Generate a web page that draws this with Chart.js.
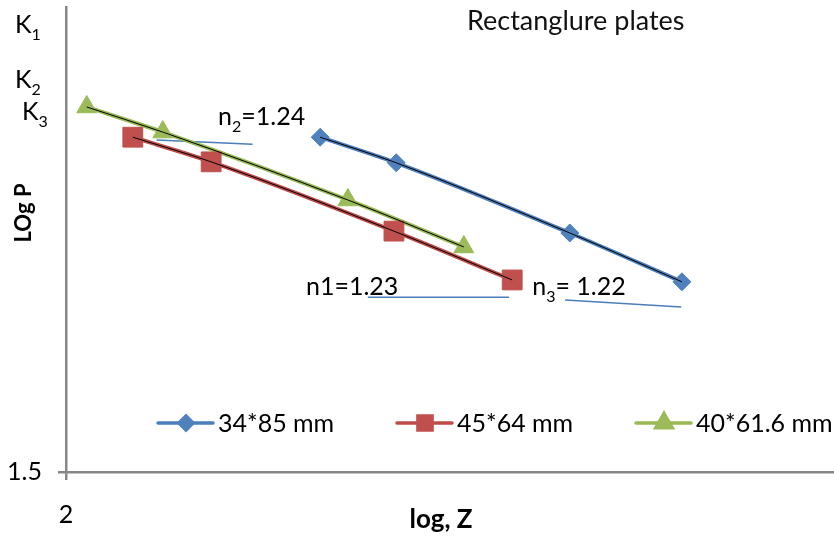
<!DOCTYPE html>
<html>
<head>
<meta charset="utf-8">
<script src="https://cdn.jsdelivr.net/npm/chart.js@4/dist/chart.umd.min.js"></script>
<style>
  html, body { margin: 0; padding: 0; background: #fff; }
  #wrap { width: 834px; height: 541px; position: relative; }
</style>
</head>
<body>
<div id="wrap"><canvas id="chart"></canvas></div>
<script>
// log Z / log P values
const blueX = [2.331, 2.430, 2.656, 2.802];
const blueY = [2.220, 2.165, 2.014, 1.909];
const redX = [2.087, 2.189, 2.427, 2.581];
const redY = [2.220, 2.167, 2.018, 1.913];
const greenX = [2.027, 2.126, 2.367, 2.518];
const greenY = [2.285, 2.231, 2.085, 1.984];

const seriesNames = ["34*85 mm", "45*64 mm", "40*61.6 mm"];

// slope guide lines, two end points each (n2, n1, n3)
const guideX = [[2.118, 2.243], [2.393, 2.577], [2.650, 2.801]];
const guideY = [[2.214, 2.205], [1.876, 1.876], [1.870, 1.855]];

// slope labels: [main, subscript, rest], anchored at (x, y)
const slopeText = [["n", "2", "=1.24"], ["n1=1.23", "", ""], ["n", "3", "= 1.22"]];
const slopeX = [2.198, 2.3125, 2.607];
const slopeY = [2.246, 1.881, 1.881];

const kNames = ["1", "2", "3"];
const xTicks = [2];
const yTicks = [1.5];

const FONT = "Lato, 'Open Sans', sans-serif";
const BLUE = "#4A7EBB", RED = "#BE4B48", GREEN = "#98B954";
const AXIS = "#868686";

const pts = (xs, ys) => xs.map((x, i) => ({ x, y: ys[i] }));

function series(label, xs, ys, color, fill, style, radius) {
  return {
    label,
    data: pts(xs, ys),
    borderColor: color,
    borderWidth: 4,
    backgroundColor: fill,
    pointStyle: style,
    pointRadius: radius,
    pointBackgroundColor: fill,
    pointBorderColor: fill,
    pointBorderWidth: 1,
    cubicInterpolationMode: "monotone",
    order: 1,
  };
}

function trend(xs, ys) {
  return {
    label: "trend",
    data: pts(xs, ys),
    borderColor: "#000",
    borderWidth: 1,
    pointRadius: 0,
    cubicInterpolationMode: "monotone",
    order: 0,
  };
}

const guides = guideX.map((xs, i) => ({
  label: "guide",
  data: pts(xs, guideY[i]),
  borderColor: BLUE,
  borderWidth: 1.5,
  pointRadius: 0,
  order: 2,
}));

const markers = [
  { color: BLUE, fill: "#4F81BD", style: "rectRot", r: 7 },
  { color: RED, fill: "#C0504D", style: "rect", r: 10 },
  { color: GREEN, fill: "#9BBB59", style: "triangle", r: 9.5 },
];

function drawSub(ctx, parts, x, y, size) {
  const [main, sub, rest] = parts;
  ctx.font = `${size}px ${FONT}`;
  ctx.fillText(main, x, y);
  x += ctx.measureText(main).width;
  if (sub) {
    ctx.font = `${Math.round(size * 0.65)}px ${FONT}`;
    ctx.fillText(sub, x, y + size * 0.28);
    x += ctx.measureText(sub).width;
  }
  if (rest) {
    ctx.font = `${size}px ${FONT}`;
    ctx.fillText(rest, x, y);
  }
}

const overlay = {
  id: "overlay",
  afterDraw(chart) {
    const { ctx, scales: { x, y } } = chart;
    ctx.save();
    ctx.fillStyle = "#000";
    ctx.textBaseline = "alphabetic";
    ctx.textAlign = "left";

    // title
    ctx.font = `27px ${FONT}`;
    ctx.fillStyle = "#111";
    ctx.fillText("Rectanglure plates", 467, 30);
    ctx.fillStyle = "#000";

    // K labels by the y axis
    const kPos = [[15, 33], [15, 88], [22, 120]];
    kNames.forEach((k, i) => drawSub(ctx, ["K", k, ""], kPos[i][0], kPos[i][1], 25));

    // slope labels
    slopeText.forEach((parts, i) =>
      drawSub(ctx, parts, x.getPixelForValue(slopeX[i]), y.getPixelForValue(slopeY[i]), 25));

    // axis titles
    ctx.font = `bold 26px ${FONT}`;
    ctx.textAlign = "center";
    ctx.fillText("log, Z", 441, 528);
    ctx.save();
    ctx.translate(31, 213);
    ctx.rotate(-Math.PI / 2);
    ctx.font = `bold 22px ${FONT}`;
    ctx.fillText("LOg P", 0, 0);
    ctx.restore();

    // legend
    const legendX = [158, 397, 636];
    const ly = 423;
    ctx.textAlign = "left";
    ctx.textBaseline = "middle";
    seriesNames.forEach((name, i) => {
      const m = markers[i];
      const lx = legendX[i];
      ctx.strokeStyle = m.color;
      ctx.lineWidth = 3.5;
      ctx.lineCap = "round";
      ctx.beginPath();
      ctx.moveTo(lx, ly);
      ctx.lineTo(lx + 55, ly);
      ctx.stroke();
      ctx.fillStyle = m.fill;
      ctx.strokeStyle = m.fill;
      Chart.helpers.drawPoint(ctx, { pointStyle: m.style, radius: m.r, rotation: 0, borderWidth: 1 }, lx + 28, ly);
      ctx.fillStyle = "#000";
      ctx.font = `25px ${FONT}`;
      ctx.fillText(name, lx + 60, ly + 1);
    });
    ctx.restore();
  },
};

const noPad = (s) => { s.paddingTop = 0; s.paddingBottom = 0; s.paddingLeft = 0; s.paddingRight = 0; };

const axisBase = (min, max, keep) => ({
  type: "linear",
  min,
  max,
  afterBuildTicks: (s) => { s.ticks = keep.map((v) => ({ value: v })); },
  border: { color: AXIS, width: 2.5 },
  grid: { display: true, drawOnChartArea: false, drawTicks: true, tickLength: 8, color: AXIS, lineWidth: 2.5 },
  ticks: { color: "#000", font: { family: FONT, size: 25 }, maxRotation: 0, callback: (v) => String(v) },
});

const xAxis = axisBase(2, 3, xTicks);
xAxis.afterFit = (s) => { s.height = 69; noPad(s); };
xAxis.ticks.padding = 20;
const yAxis = axisBase(1.5, 2.5, yTicks);
yAxis.afterFit = (s) => { s.width = 66; noPad(s); };
yAxis.ticks.padding = 16;

new Chart(document.getElementById("chart"), {
  type: "line",
  data: {
    datasets: [
      trend(blueX, blueY),
      trend(redX, redY),
      trend(greenX, greenY),
      series(seriesNames[0], blueX, blueY, BLUE, "#4F81BD", "rectRot", 9),
      series(seriesNames[1], redX, redY, RED, "#C0504D", "rect", 14),
      series(seriesNames[2], greenX, greenY, GREEN, "#9BBB59", "triangle", 11.5),
      ...guides,
    ],
  },
  options: {
    responsive: true,
    maintainAspectRatio: false,
    animation: false,
    layout: { autoPadding: false, padding: { top: 7, right: 0, left: 0, bottom: 0 } },
    plugins: { legend: { display: false }, tooltip: { enabled: false } },
    scales: { x: xAxis, y: yAxis },
  },
  plugins: [overlay],
});
</script>
</body>
</html>
